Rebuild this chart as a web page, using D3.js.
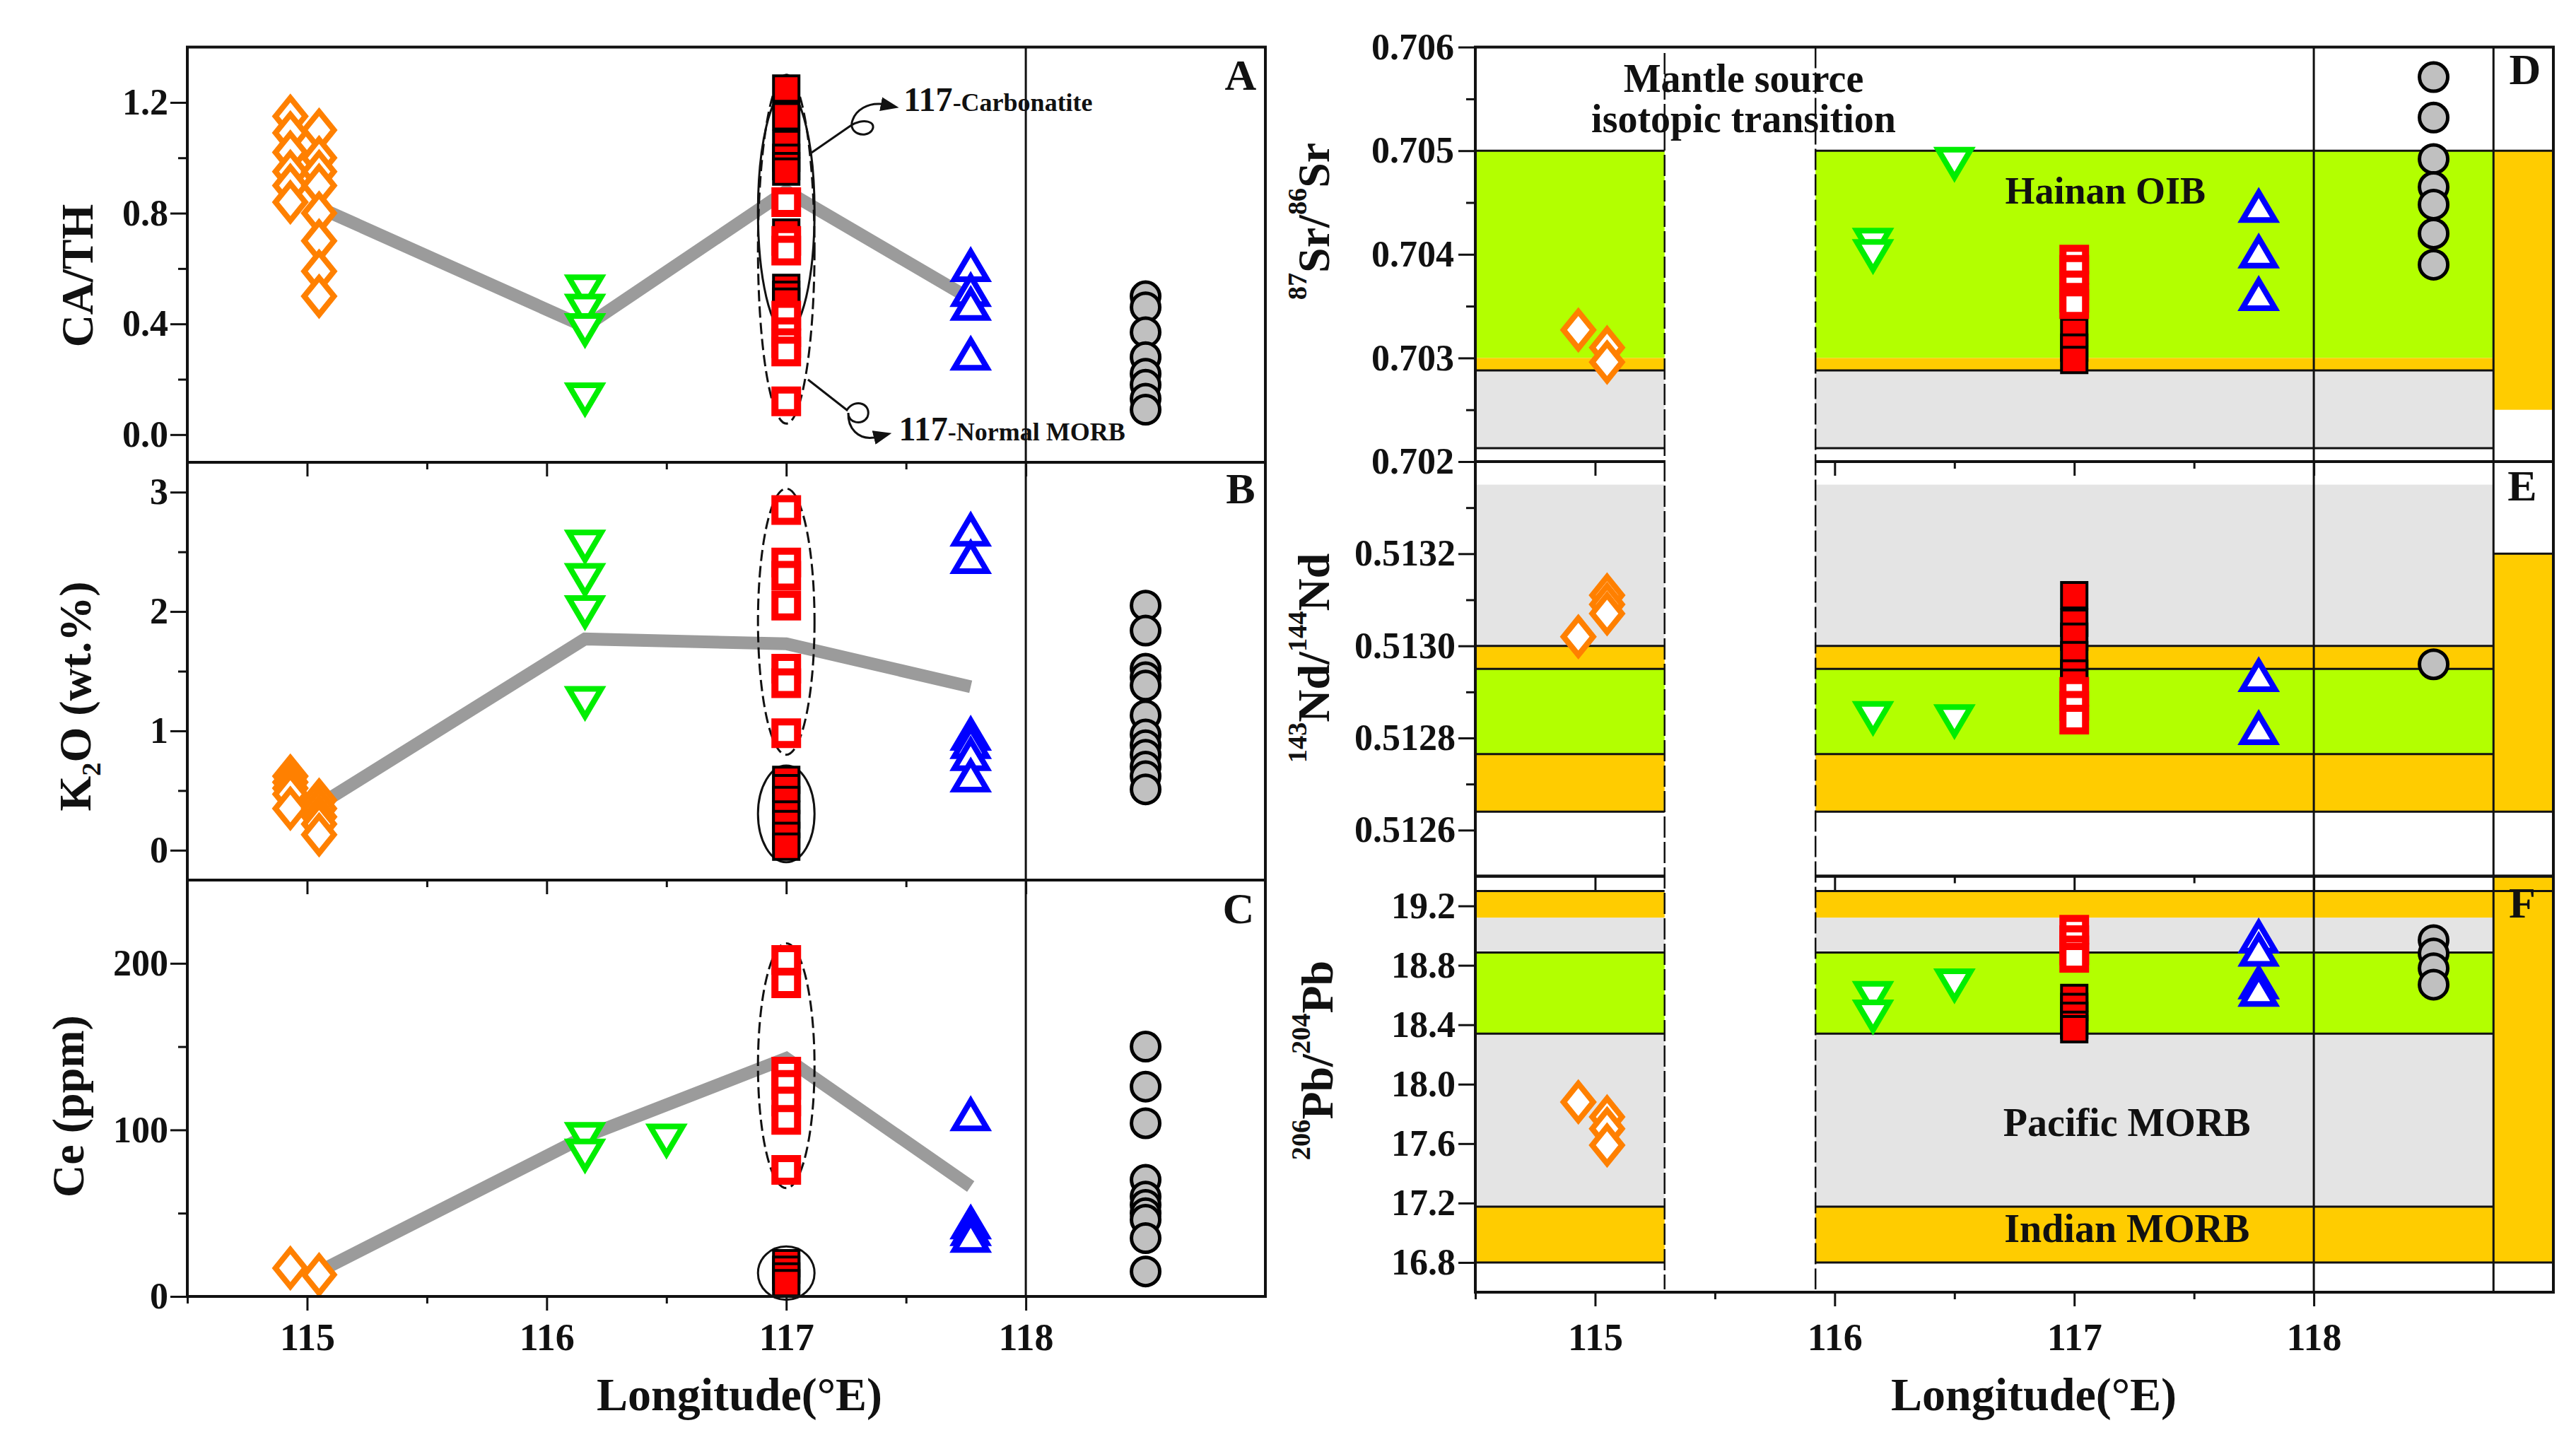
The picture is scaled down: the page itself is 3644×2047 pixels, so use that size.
<!DOCTYPE html>
<html>
<head>
<meta charset="utf-8">
<script src="https://cdn.jsdelivr.net/npm/d3@7/dist/d3.min.js"></script>
<style>
  body { margin: 0; background: #fff; }
  text { font-family: "Liberation Serif", "Times New Roman", serif; font-weight: bold; fill: #111; }
</style>
</head>
<body>
<svg id="chart"></svg>
<script>
// longitudes of the sample groups (degrees E)
var lonOrange = [114.93, 115.05];
var lonGreen = [116.16, 116.5];
var lonRed = 117;
var lonBlue = 117.77;
var lonGray = 118.5;
var lonTrend = [115.05, 116.16, 117, 117.77];

// A: CA/TH
var caOrange = [[1.15, 1.09, 1.02, 0.95, 0.90, 0.84], [1.10, 1.00, 0.95, 0.90, 0.80, 0.70, 0.59, 0.50]];
var caGreen = [[0.52, 0.45, 0.38, 0.13], []];
var caCarb = [1.25, 1.15, 1.05, 1.00, 0.97, 0.95, 0.73, 0.53, 0.505, 0.48];
var caNormal = [0.84, 0.70, 0.665, 0.43, 0.37, 0.33, 0.30, 0.12];
var caBlue = [0.61, 0.52, 0.47, 0.29];
var caGray = [0.50, 0.46, 0.37, 0.28, 0.22, 0.18, 0.13, 0.09];
var caTrend = [0.82, 0.39, 0.88, 0.49];

// B: K2O (wt.%)
var kOrange = [[0.62, 0.57, 0.52, 0.47, 0.35], [0.42, 0.35, 0.28, 0.22, 0.13]];
var kGreen = [[2.55, 2.27, 2.00, 1.24], []];
var kCarb = [0.59, 0.52, 0.42, 0.30, 0.22, 0.12, 0.03];
var kNormal = [2.85, 2.41, 2.30, 2.05, 1.52, 1.40, 0.98];
var kBlue = [2.68, 2.45, 0.97, 0.90, 0.80, 0.62];
var kGray = [2.05, 1.84, 1.52, 1.45, 1.38, 1.13, 0.97, 0.88, 0.80, 0.70, 0.62, 0.51];
var kTrend = [0.38, 1.77, 1.73, 1.37];

// C: Ce (ppm)
var ceOrange = [[17], [13]];
var ceGreen = [[95, 85], [94]];
var ceCarb = [20, 16, 12, 8];
var ceNormal = [202, 188, 135, 127, 117, 106, 76];
var ceBlue = [109, 44, 40, 36];
var ceGray = [150, 126, 104, 70, 60, 55, 50, 46, 35, 15];
var ceTrend = [15, 96, 143, 66];

// D: 87Sr/86Sr
var srOrange = [[0.70327], [0.70310, 0.70296]];
var srGreen = [[0.70410, 0.70399], [0.70488]];
var srCarb = [0.70325, 0.70310, 0.70298];
var srNormal = [0.70395, 0.70385, 0.70370, 0.70358, 0.70352];
var srBlue = [0.70446, 0.70402, 0.70361];
var srGray = [0.70571, 0.70532, 0.70492, 0.70465, 0.70448, 0.70420, 0.70390];

// E: 143Nd/144Nd
var ndOrange = [[0.51302], [0.51311, 0.51309, 0.51307]];
var ndGreen = [[0.512845], [0.512838]];
var ndCarb = [0.51311, 0.51305, 0.51302, 0.51298, 0.51294, 0.51292];
var ndNormal = [0.51290, 0.51287, 0.51284];
var ndBlue = [0.512935, 0.51282];
var ndGray = [0.51296];

// F: 206Pb/204Pb
var pbOrange = [[17.88], [17.78, 17.70, 17.59]];
var pbGreen = [[18.585, 18.46], [18.67]];
var pbCarb = [18.58, 18.52, 18.46, 18.40, 18.37];
var pbNormal = [19.04, 18.97, 18.90, 18.85];
var pbBlue = [18.99, 18.90, 18.68, 18.63];
var pbGray = [18.97, 18.88, 18.78, 18.67];

// reference fields [low, high, kind]
var srBands = [[0.703, 0.705, "oib"], [0.70288, 0.703, "indian"], [0.70213, 0.70288, "pacific"]];
var ndBands = [[0.5130, 0.51335, "pacific"], [0.51295, 0.5130, "indian"], [0.512765, 0.51295, "oib"], [0.51264, 0.512765, "indian"]];
var pbBands = [[19.12, 19.30, "indian"], [18.886, 19.12, "pacific"], [18.34, 18.886, "oib"], [17.176, 18.34, "pacific"], [16.80, 17.176, "indian"]];
var srEdge = [0.7025, 0.705];
var ndEdge = [0.51264, 0.5132];
var pbEdge = [16.80, 19.40];
var srLines = [0.70288, 0.70213];
var srLinesFull = [0.705];
var ndLines = [0.5130, 0.51295, 0.512765];
var ndLinesFull = [0.51264];
var pbLines = [18.886, 18.34, 17.176];
var pbLinesFull = [19.30, 16.80];
var transition = [115.29, 115.92];
var edgeLon = 118.75;

// outlines around the 117 samples [low, high]
var ellA = [[0.04, 1.30], [0.37, 1.24]];
var ellB = [[0.80, 3.03], [-0.10, 0.71]];
var ellC = [[65, 212], [-2, 30]];

// ticks
var xMajor = [115, 116, 117, 118];
var xMinor = [114.5, 115.5, 116.5, 117.5];

var W = 3644, H = 2047;
var svg = d3.select("#chart").attr("width", W).attr("height", H);

var defs = svg.append("defs");
defs.append("marker").attr("id", "arrow")
    .attr("markerUnits", "userSpaceOnUse")
    .attr("markerWidth", 26).attr("markerHeight", 20)
    .attr("refX", 4).attr("refY", 10).attr("orient", "auto")
    .append("path").attr("d", "M0,0L26,10L0,20Z").attr("fill", "#111");

var xDomain = [114.5, 119];
var xL = d3.scaleLinear().domain(xDomain).range([265, 1790]);
var xR = d3.scaleLinear().domain(xDomain).range([2087, 3612]);

var yA = d3.scaleLinear().domain([-0.1, 1.4]).range([654, 66.6]);
var yB = d3.scaleLinear().domain([-0.25, 3.25]).range([1245, 654]);
var yC = d3.scaleLinear().domain([0, 250]).range([1834, 1245]);
var yD = d3.scaleLinear().domain([0.702, 0.706]).range([653, 66.6]);
var yE = d3.scaleLinear().domain([0.5125, 0.5134]).range([1239.5, 653]);
var yF = d3.scaleLinear().domain([16.6, 19.4]).range([1828, 1239.5]);

var bandColor = {oib: "#B3FF00", indian: "#FFCC00", pacific: "#E4E4E4"};

var style = {
  orange: {d: "M0,-26L21,0L0,26L-21,0Z", fill: "#fff", stroke: "#FF8000", sw: 8},
  green:  {d: "M-23,-19L23,-19L0,20Z", fill: "#fff", stroke: "#00EE00", sw: 8},
  carb:   {d: "M-18,-18H18V18H-18Z", fill: "#FF0000", stroke: "#000", sw: 4},
  normal: {d: "M-16,-16H16V16H-16Z", fill: "#fff", stroke: "#FF0000", sw: 10},
  blue:   {d: "M0,-20L23,19L-23,19Z", fill: "#fff", stroke: "#0000FF", sw: 8},
  gray:   {r: 20, fill: "#C0C0C0", stroke: "#000", sw: 5}
};

function points(g, x, y, lon, vals, kind) {
  var s = style[kind];
  var sel = g.append("g").selectAll("x").data(vals).enter();
  if (s.r) {
    sel.append("circle")
       .attr("cx", x(lon)).attr("cy", function(d) { return y(d); })
       .attr("r", s.r).attr("fill", s.fill).attr("stroke", s.stroke).attr("stroke-width", s.sw);
  } else {
    sel.append("path").attr("d", s.d)
       .attr("transform", function(d) { return "translate(" + x(lon) + "," + y(d) + ")"; })
       .attr("fill", s.fill).attr("stroke", s.stroke).attr("stroke-width", s.sw);
  }
}

function allPoints(g, x, y, orange, green, carb, normal, blue, gray) {
  orange.forEach(function(v, i) { points(g, x, y, lonOrange[i], v, "orange"); });
  green.forEach(function(v, i) { points(g, x, y, lonGreen[i], v, "green"); });
  points(g, x, y, lonRed, carb, "carb");
  points(g, x, y, lonRed, normal, "normal");
  points(g, x, y, lonBlue, blue, "blue");
  points(g, x, y, lonGray, gray, "gray");
}

function trend(g, x, y, vals) {
  var line = d3.line().x(function(d, i) { return x(lonTrend[i]); }).y(function(d) { return y(d); });
  g.append("path").datum(vals).attr("d", line)
   .attr("fill", "none").attr("stroke", "#9B9B9B").attr("stroke-width", 18);
}

function outlines(g, x, y, ell) {
  ell.forEach(function(e, i) {
    g.append("ellipse")
     .attr("cx", x(lonRed)).attr("cy", (y(e[0]) + y(e[1])) / 2)
     .attr("rx", x(lonRed + 0.118) - x(lonRed)).attr("ry", Math.abs(y(e[0]) - y(e[1])) / 2)
     .attr("fill", "none").attr("stroke", "#111").attr("stroke-width", 3)
     .attr("stroke-dasharray", i === 0 ? "16,7" : null);
  });
}

function styleAxis(a, size) {
  a.select(".domain").remove();
  a.attr("font-family", "'Liberation Serif', 'Times New Roman', serif")
   .attr("font-size", size).attr("font-weight", "bold");
  a.selectAll("line").attr("stroke", "#111").attr("stroke-width", 3);
  a.selectAll("text").attr("fill", "#111");
}

function yAxis(x0, y, major, minor, fmt, pad) {
  svg.append("g").attr("transform", "translate(" + x0 + ",0)")
     .call(d3.axisLeft(y).tickValues(major).tickFormat(d3.format(fmt)).tickSize(24).tickPadding(pad))
     .call(styleAxis, 52);
  if (minor.length) {
    svg.append("g").attr("transform", "translate(" + x0 + ",0)")
       .call(d3.axisLeft(y).tickValues(minor).tickFormat("").tickSize(13))
       .call(styleAxis, 52);
  }
}

function xAxis(x, y0, labels, pad) {
  svg.append("g").attr("transform", "translate(0," + y0 + ")")
     .call(d3.axisBottom(x).tickValues(xMajor).tickFormat(labels ? d3.format("d") : "").tickSize(20).tickPadding(pad))
     .call(styleAxis, 54);
  svg.append("g").attr("transform", "translate(0," + y0 + ")")
     .call(d3.axisBottom(x).tickValues(xMinor).tickFormat("").tickSize(10))
     .call(styleAxis, 54);
}

function frame(x0, x1, y0, y1) {
  svg.append("rect").attr("x", x0).attr("y", y0).attr("width", x1 - x0).attr("height", y1 - y0)
     .attr("fill", "none").attr("stroke", "#111").attr("stroke-width", 4);
}

function title(cx, cy, parts, size) {
  var t = svg.append("text").attr("transform", "translate(" + cx + "," + cy + ") rotate(-90)")
             .attr("text-anchor", "middle").attr("font-size", size);
  var shift = 0;
  parts.forEach(function(p) {
    var off = p[1] === "sup" ? -0.5 * size : p[1] === "sub" ? 0.22 * size : 0;
    t.append("tspan").text(p[0])
     .attr("font-size", p[1] === "n" ? size : size * 0.6)
     .attr("dy", off - shift);
    shift = off;
  });
}

function label(x, y, txt, size, anchor) {
  svg.append("text").attr("x", x).attr("y", y).attr("font-size", size)
     .attr("text-anchor", anchor || "middle").text(txt);
}

// ---------- left column: A, B, C ----------
var gL = svg.append("g");
trend(gL, xL, yA, caTrend);
trend(gL, xL, yB, kTrend);
trend(gL, xL, yC, ceTrend);
outlines(gL, xL, yA, ellA);
outlines(gL, xL, yB, ellB);
outlines(gL, xL, yC, ellC);
allPoints(gL, xL, yA, caOrange, caGreen, caCarb, caNormal, caBlue, caGray);
allPoints(gL, xL, yB, kOrange, kGreen, kCarb, kNormal, kBlue, kGray);
allPoints(gL, xL, yC, ceOrange, ceGreen, ceCarb, ceNormal, ceBlue, ceGray);

svg.append("line").attr("x1", xL(118)).attr("x2", xL(118)).attr("y1", yA.range()[1]).attr("y2", yC.range()[0])
   .attr("stroke", "#111").attr("stroke-width", 3);
frame(xL.range()[0], xL.range()[1], yA.range()[1], yA.range()[0]);
frame(xL.range()[0], xL.range()[1], yB.range()[1], yB.range()[0]);
frame(xL.range()[0], xL.range()[1], yC.range()[1], yC.range()[0]);

yAxis(xL.range()[0], yA, [0, 0.4, 0.8, 1.2], [0.2, 0.6, 1.0], ".1f", 3);
yAxis(xL.range()[0], yB, [0, 1, 2, 3], [0.5, 1.5, 2.5], "d", 3);
yAxis(xL.range()[0], yC, [0, 100, 200], [50, 150], "d", 3);
xAxis(xL, yA.range()[0], false, 0);
xAxis(xL, yB.range()[0], false, 0);
xAxis(xL, yC.range()[0], true, 18);

// annotations of the 117 groups
svg.append("path")
   .attr("d", "M1148,216 L1203,178 C1220,166 1242,172 1233,185 C1224,196 1199,189 1206,170 C1211,155 1228,146 1245,147 L1250,148")
   .attr("fill", "none").attr("stroke", "#111").attr("stroke-width", 3).attr("marker-end", "url(#arrow)");
svg.append("path")
   .attr("d", "M1143,537 L1198,580 C1210,562 1234,572 1227,590 C1220,603 1199,598 1200,584 C1199,606 1214,622 1236,619 L1240,618")
   .attr("fill", "none").attr("stroke", "#111").attr("stroke-width", 3).attr("marker-end", "url(#arrow)");
var t1 = svg.append("text").attr("x", xL(117.49)).attr("y", yA(1.17));
t1.append("tspan").attr("font-size", 48).text("117");
t1.append("tspan").attr("font-size", 36).text("-Carbonatite");
var t2 = svg.append("text").attr("x", xL(117.47)).attr("y", yA(-0.02));
t2.append("tspan").attr("font-size", 48).text("117");
t2.append("tspan").attr("font-size", 36).text("-Normal MORB");

label(1755, 127, "A", 62);
label(1755, 712, "B", 62);
label(1752, 1306, "C", 62);

title(131, 390, [["CA/TH", "n"]], 64);
title(128, 985, [["K", "n"], ["2", "sub"], ["O (wt.%)", "n"]], 64);
title(118, 1565, [["Ce (ppm)", "n"]], 64);
label(1046, 1995, "Longitude(\u00B0E)", 66);

// ---------- right column: D, E, F ----------
var gR = svg.append("g");
function fields(y, bands, edge, lines, linesFull) {
  bands.forEach(function(b) {
    gR.append("rect").attr("x", xR(114.5)).attr("width", xR(edgeLon) - xR(114.5))
      .attr("y", y(b[1])).attr("height", y(b[0]) - y(b[1])).attr("fill", bandColor[b[2]]);
  });
  gR.append("rect").attr("x", xR(edgeLon)).attr("width", xR(119) - xR(edgeLon))
    .attr("y", y(edge[1])).attr("height", y(edge[0]) - y(edge[1])).attr("fill", bandColor.indian);
  lines.forEach(function(v) {
    gR.append("line").attr("x1", xR(114.5)).attr("x2", xR(edgeLon)).attr("y1", y(v)).attr("y2", y(v))
      .attr("stroke", "#111").attr("stroke-width", 3);
  });
  linesFull.forEach(function(v) {
    gR.append("line").attr("x1", xR(114.5)).attr("x2", xR(119)).attr("y1", y(v)).attr("y2", y(v))
      .attr("stroke", "#111").attr("stroke-width", 3);
  });
}
fields(yD, srBands, srEdge, srLines, srLinesFull);
fields(yE, ndBands, ndEdge, ndLines, ndLinesFull);
fields(yF, pbBands, pbEdge, pbLines, pbLinesFull);
gR.append("line").attr("x1", xR(edgeLon)).attr("x2", xR(119)).attr("y1", yE(ndEdge[1])).attr("y2", yE(ndEdge[1]))
  .attr("stroke", "#111").attr("stroke-width", 3);

[118, edgeLon].forEach(function(v) {
  gR.append("line").attr("x1", xR(v)).attr("x2", xR(v)).attr("y1", yD.range()[1]).attr("y2", yF.range()[0])
    .attr("stroke", "#111").attr("stroke-width", 3);
});

allPoints(gR, xR, yD, srOrange, srGreen, srCarb, srNormal, srBlue, srGray);
allPoints(gR, xR, yE, ndOrange, ndGreen, ndCarb, ndNormal, ndBlue, ndGray);
allPoints(gR, xR, yF, pbOrange, pbGreen, pbCarb, pbNormal, pbBlue, pbGray);

frame(xR.range()[0], xR.range()[1], yD.range()[1], yD.range()[0]);
frame(xR.range()[0], xR.range()[1], yE.range()[1], yE.range()[0]);
frame(xR.range()[0], xR.range()[1], yF.range()[1], yF.range()[0]);

yAxis(xR.range()[0], yD, [0.702, 0.703, 0.704, 0.705, 0.706], [0.7025, 0.7035, 0.7045, 0.7055], ".3f", 6);
yAxis(xR.range()[0], yE, [0.5126, 0.5128, 0.5130, 0.5132], [0.5127, 0.5129, 0.5131, 0.5133], ".4f", 4);
yAxis(xR.range()[0], yF, [16.8, 17.2, 17.6, 18.0, 18.4, 18.8, 19.2], [], ".1f", 4);
xAxis(xR, yD.range()[0], false, 0);
xAxis(xR, yE.range()[0], false, 0);
xAxis(xR, yF.range()[0], true, 24);

// mantle source transition gap
svg.append("rect").attr("x", xR(transition[0])).attr("width", xR(transition[1]) - xR(transition[0]))
   .attr("y", yD.range()[1] + 3).attr("height", yF.range()[0] - yD.range()[1] - 6).attr("fill", "#fff");
label(xR(115.62), yD(0.70557), "Mantle source", 56);
label(xR(115.62), yD(0.70518), "isotopic transition", 56);
transition.forEach(function(v, i) {
  svg.append("line").attr("x1", xR(v)).attr("x2", xR(v))
     .attr("y1", i === 0 ? 75 : yD.range()[1]).attr("y2", yF.range()[0] - 4)
     .attr("stroke", "#111").attr("stroke-width", 2.5).attr("stroke-dasharray", "30,6");
});

label(xR(117.13), yD(0.70449), "Hainan OIB", 54);
label(xR(117.22), yF(17.65), "Pacific MORB", 56);
label(xR(117.22), yF(16.94), "Indian MORB", 56);

label(3572, 119, "D", 62);
label(3568, 708, "E", 62);
label(3568, 1298, "F", 62);

title(1880, 313, [["87", "sup"], ["Sr/", "n"], ["86", "sup"], ["Sr", "n"]], 64);
title(1880, 931, [["143", "sup"], ["Nd/", "n"], ["144", "sup"], ["Nd", "n"]], 64);
title(1885, 1500, [["206", "sup"], ["Pb/", "n"], ["204", "sup"], ["Pb", "n"]], 64);
label(2877, 1995, "Longitude(\u00B0E)", 66);
</script>
</body>
</html>
